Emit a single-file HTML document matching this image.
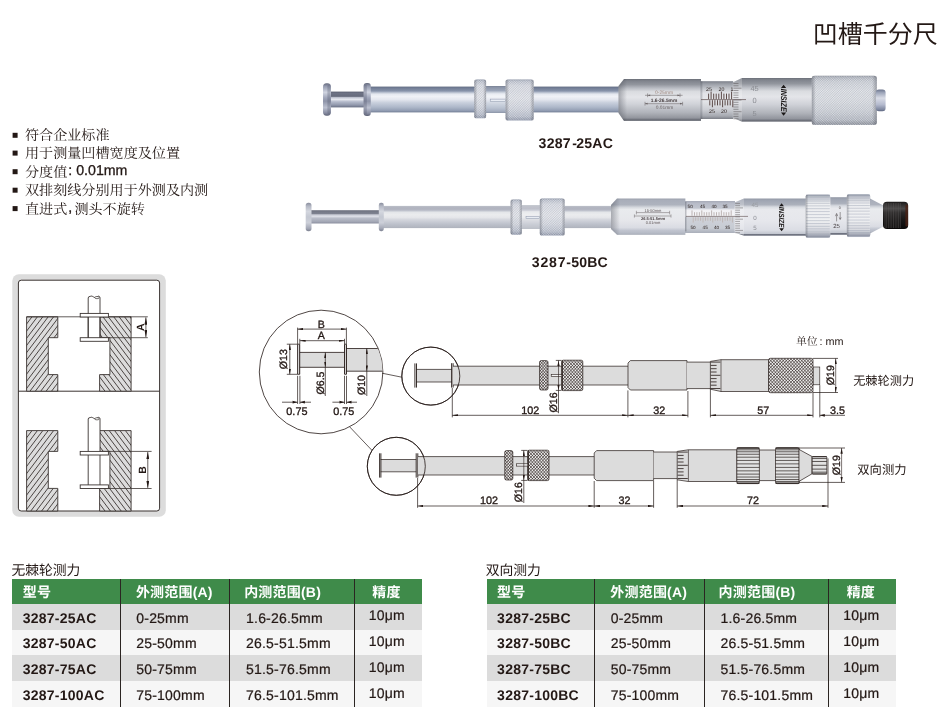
<!DOCTYPE html>
<html lang="zh"><head><meta charset="utf-8"><title>凹槽千分尺</title>
<style>
html,body{margin:0;padding:0;background:#fff;}
body{width:950px;height:722px;position:relative;will-change:transform;text-rendering:geometricPrecision;overflow:hidden;font-family:"Liberation Sans",sans-serif;color:#231815;}
#art{position:absolute;left:0;top:0;}
.t{position:absolute;white-space:nowrap;line-height:1;}
.b{font-weight:bold;}
svg text{font-family:"Liberation Sans",sans-serif;fill:#231815;}
svg .dw text{stroke:#231815;stroke-width:0.32px;}
table.spec{position:absolute;border-collapse:collapse;table-layout:fixed;font-size:14px;}
table.spec td,table.spec th{padding:0;text-align:left;font-weight:normal;white-space:nowrap;overflow:visible;}
table.spec th{background:#3f8b4a;color:#fff;height:25.3px;font-weight:bold;font-size:14px;font-family:"Liberation Sans","Noto Sans CJK SC",sans-serif;}
table.spec td{height:25.7px;}
table.spec tr.g td{background:#dcdcdc;}
table.spec tr.w td{background:#f6f6f6;}
table.spec td.m{font-weight:bold;}
table.spec .v{border-left:1.2px solid #2b2522;}
table.spec span{position:relative;display:inline-block;}
table.spec .c1{left:10.6px;} table.spec .c2{left:15.3px;} table.spec .c3{left:15.9px;} table.spec .c4{left:13.7px;}
table.spec td span{top:0.8px;letter-spacing:0.2px;-webkit-text-stroke:0.22px #231815;} table.spec td span.up{top:-1.5px;}
table.spec td.m span{letter-spacing:0.25px;-webkit-text-stroke:0;top:0.6px;}
table.spec th span{top:0.2px;letter-spacing:0.2px;}
table.spec th .c2{left:14.9px;} table.spec th .c3{left:14.0px;} table.spec th .c4{left:17.2px;}
</style></head>
<body>
<svg id="art" width="950" height="722" viewBox="0 0 950 722">
<!-- title -->
<text x="812.8" y="42.9" font-size="25" style="font-family:'Liberation Sans','Noto Sans CJK SC',sans-serif;fill:#231815">凹槽千分尺</text>
<!-- bullet text -->
<text x="25" y="140.3" font-size="14.1" style="font-family:'Liberation Serif','Noto Serif CJK SC',serif;fill:#231815">符合企业标准</text>
<text x="25" y="158.1" font-size="14.1" style="font-family:'Liberation Serif','Noto Serif CJK SC',serif;fill:#231815">用于测量凹槽宽度及位置</text>
<text x="25" y="176.7" font-size="14.1" style="font-family:'Liberation Serif','Noto Serif CJK SC',serif;fill:#231815">分度值</text>
<text x="25" y="195.2" font-size="14.1" style="font-family:'Liberation Serif','Noto Serif CJK SC',serif;fill:#231815">双排刻线分别用于外测及内测</text>
<text x="25" y="213.6" font-size="14.1" style="font-family:'Liberation Serif','Noto Serif CJK SC',serif;fill:#231815">直进式</text>
<text x="74.4" y="213.6" font-size="14.1" style="font-family:'Liberation Serif','Noto Serif CJK SC',serif;fill:#231815">测头不旋转</text>
<rect x="12.6" y="132.8" width="5" height="5" fill="#231815"/>
<rect x="12.6" y="150.6" width="5" height="5" fill="#231815"/>
<rect x="12.6" y="169.2" width="5" height="5" fill="#231815"/>
<rect x="12.6" y="187.7" width="5" height="5" fill="#231815"/>
<rect x="12.6" y="206.1" width="5" height="5" fill="#231815"/>
<!-- photos -->
<defs>
<linearGradient id="gTube" x1="0" y1="0" x2="0" y2="1"><stop offset="0" stop-color="#5a657b"/><stop offset="0.04" stop-color="#6f7a92"/><stop offset="0.17" stop-color="#8793aa"/><stop offset="0.23" stop-color="#b9c1d0"/><stop offset="0.29" stop-color="#e4e8ef"/><stop offset="0.38" stop-color="#f0f2f7"/><stop offset="0.5" stop-color="#e4e7ef"/><stop offset="0.62" stop-color="#c9d0dd"/><stop offset="0.8" stop-color="#adb7c9"/><stop offset="0.93" stop-color="#929db3"/><stop offset="1" stop-color="#727d94"/></linearGradient>
<linearGradient id="gBarrel" x1="0" y1="0" x2="0" y2="1"><stop offset="0" stop-color="#6c7079"/><stop offset="0.04" stop-color="#7f838c"/><stop offset="0.13" stop-color="#92969e"/><stop offset="0.22" stop-color="#bbbec5"/><stop offset="0.3" stop-color="#dadce0"/><stop offset="0.43" stop-color="#e4e5e9"/><stop offset="0.6" stop-color="#d0d2d8"/><stop offset="0.8" stop-color="#b0b3ba"/><stop offset="0.93" stop-color="#92959d"/><stop offset="0.97" stop-color="#6e717a"/><stop offset="1" stop-color="#7d8088"/></linearGradient>
<linearGradient id="gSleeve" x1="0" y1="0" x2="0" y2="1"><stop offset="0" stop-color="#7c808a"/><stop offset="0.07" stop-color="#9a9ea6"/><stop offset="0.2" stop-color="#c3c6cc"/><stop offset="0.32" stop-color="#e2e3e7"/><stop offset="0.5" stop-color="#e6e7ea"/><stop offset="0.75" stop-color="#ccced4"/><stop offset="0.92" stop-color="#a6a9b0"/><stop offset="1" stop-color="#7d8088"/></linearGradient>
<linearGradient id="gKnob" x1="0" y1="0" x2="0" y2="1"><stop offset="0" stop-color="#868a94"/><stop offset="0.04" stop-color="#adb1ba"/><stop offset="0.12" stop-color="#cfd2d8"/><stop offset="0.3" stop-color="#e2e4e8"/><stop offset="0.5" stop-color="#e0e2e6"/><stop offset="0.72" stop-color="#cdd0d6"/><stop offset="0.9" stop-color="#acb0b9"/><stop offset="0.97" stop-color="#80848e"/><stop offset="1" stop-color="#8d919a"/></linearGradient>
<linearGradient id="gKnurl" x1="0" y1="0" x2="0" y2="1"><stop offset="0" stop-color="#8e96a8"/><stop offset="0.05" stop-color="#bcc2cf"/><stop offset="0.15" stop-color="#dde0e8"/><stop offset="0.45" stop-color="#eaecf1"/><stop offset="0.7" stop-color="#d6dae3"/><stop offset="0.9" stop-color="#b4bbca"/><stop offset="0.97" stop-color="#8c94a8"/><stop offset="1" stop-color="#99a1b4"/></linearGradient>
<linearGradient id="gNub" x1="0" y1="0" x2="0" y2="1"><stop offset="0" stop-color="#69728a"/><stop offset="0.15" stop-color="#9ea6ba"/><stop offset="0.4" stop-color="#d9dce6"/><stop offset="0.7" stop-color="#b4bace"/><stop offset="0.93" stop-color="#7d869e"/><stop offset="1" stop-color="#5c6580"/></linearGradient>
<linearGradient id="gShaft" x1="0" y1="0" x2="0" y2="1"><stop offset="0" stop-color="#585d6e"/><stop offset="0.1" stop-color="#6e7385"/><stop offset="0.3" stop-color="#666b7c"/><stop offset="0.38" stop-color="#c6cad6"/><stop offset="0.5" stop-color="#e4e7ee"/><stop offset="0.64" stop-color="#b4bacb"/><stop offset="0.85" stop-color="#9198ac"/><stop offset="1" stop-color="#676e83"/></linearGradient>
<linearGradient id="gDisc" x1="0" y1="0" x2="0" y2="1"><stop offset="0" stop-color="#666b7e"/><stop offset="0.1" stop-color="#989eb2"/><stop offset="0.28" stop-color="#d0d4e0"/><stop offset="0.45" stop-color="#a0a6ba"/><stop offset="0.55" stop-color="#8e94a8"/><stop offset="0.75" stop-color="#bcc1d0"/><stop offset="0.92" stop-color="#868ba0"/><stop offset="1" stop-color="#5d6275"/></linearGradient>
<linearGradient id="gDisc2" x1="0" y1="0" x2="0" y2="1"><stop offset="0" stop-color="#8a8e9e"/><stop offset="0.12" stop-color="#b4b8c4"/><stop offset="0.3" stop-color="#d4d7df"/><stop offset="0.5" stop-color="#c4c8d2"/><stop offset="0.7" stop-color="#cdd0d9"/><stop offset="0.9" stop-color="#a4a8b6"/><stop offset="1" stop-color="#7e8292"/></linearGradient>
<linearGradient id="gShaft2" x1="0" y1="0" x2="0" y2="1"><stop offset="0" stop-color="#6e7280"/><stop offset="0.28" stop-color="#7f8391"/><stop offset="0.34" stop-color="#c9ccd6"/><stop offset="0.48" stop-color="#dcdee6"/><stop offset="0.6" stop-color="#b9bdc9"/><stop offset="0.85" stop-color="#a4a8b6"/><stop offset="1" stop-color="#8b8f9f"/></linearGradient>
<linearGradient id="gTube2" x1="0" y1="0" x2="0" y2="1"><stop offset="0" stop-color="#bec2ca"/><stop offset="0.05" stop-color="#b3b6c1"/><stop offset="0.15" stop-color="#b0b3bf"/><stop offset="0.22" stop-color="#c1c4ce"/><stop offset="0.28" stop-color="#e3e5e9"/><stop offset="0.4" stop-color="#ebecee"/><stop offset="0.52" stop-color="#e5e6ea"/><stop offset="0.62" stop-color="#d4d6dd"/><stop offset="0.8" stop-color="#bfc3cd"/><stop offset="0.92" stop-color="#b5b9c3"/><stop offset="1" stop-color="#adb2bb"/></linearGradient>
<linearGradient id="gBarrel2" x1="0" y1="0" x2="0" y2="1"><stop offset="0" stop-color="#9da2ae"/><stop offset="0.05" stop-color="#a9aeba"/><stop offset="0.17" stop-color="#aeb3be"/><stop offset="0.24" stop-color="#d5d8de"/><stop offset="0.3" stop-color="#e9ebee"/><stop offset="0.6" stop-color="#e6e7eb"/><stop offset="0.8" stop-color="#dadce3"/><stop offset="0.88" stop-color="#c0c4cf"/><stop offset="0.96" stop-color="#b4b9c4"/><stop offset="1" stop-color="#9da2ae"/></linearGradient>
<linearGradient id="gSleeve2" x1="0" y1="0" x2="0" y2="1"><stop offset="0" stop-color="#a7abb8"/><stop offset="0.08" stop-color="#b8bcc8"/><stop offset="0.22" stop-color="#c0c4ce"/><stop offset="0.28" stop-color="#f1f1f4"/><stop offset="0.46" stop-color="#f5f5f7"/><stop offset="0.52" stop-color="#cfd2d9"/><stop offset="0.85" stop-color="#c7cbd3"/><stop offset="1" stop-color="#aaafba"/></linearGradient>
<linearGradient id="gThim2" x1="0" y1="0" x2="0" y2="1"><stop offset="0" stop-color="#9399a6"/><stop offset="0.06" stop-color="#a0a6b3"/><stop offset="0.17" stop-color="#acb1bc"/><stop offset="0.23" stop-color="#d8dbe1"/><stop offset="0.3" stop-color="#e8e9ed"/><stop offset="0.6" stop-color="#e6e7ec"/><stop offset="0.85" stop-color="#dbdde4"/><stop offset="0.94" stop-color="#c3c7d0"/><stop offset="0.975" stop-color="#4f5362"/><stop offset="1" stop-color="#7f8490"/></linearGradient>
<linearGradient id="gGear" x1="0" y1="0" x2="0" y2="1"><stop offset="0" stop-color="#9ea3ae"/><stop offset="0.05" stop-color="#cccfd6"/><stop offset="0.2" stop-color="#edeef0"/><stop offset="0.6" stop-color="#eff0f2"/><stop offset="0.85" stop-color="#d8dae0"/><stop offset="0.95" stop-color="#aeb2bc"/><stop offset="1" stop-color="#8d919e"/></linearGradient>
<linearGradient id="gBlack" x1="0" y1="0" x2="0" y2="1"><stop offset="0" stop-color="#1c1a1a"/><stop offset="0.25" stop-color="#4a4848"/><stop offset="0.4" stop-color="#2a2828"/><stop offset="0.7" stop-color="#161414"/><stop offset="1" stop-color="#0a0808"/></linearGradient>
<linearGradient id="shL" x1="0" y1="0" x2="1" y2="0"><stop offset="0" stop-color="#30343f" stop-opacity="0.35"/><stop offset="1" stop-color="#30343f" stop-opacity="0"/></linearGradient>
<linearGradient id="shR" x1="0" y1="0" x2="1" y2="0"><stop offset="0" stop-color="#30343f" stop-opacity="0"/><stop offset="1" stop-color="#30343f" stop-opacity="0.35"/></linearGradient>
</defs>
<g id="mic1">
<rect x="330" y="91.6" width="34.5" height="15.8" fill="url(#gShaft)"/><rect x="323" y="83.3" width="8" height="32.4" rx="3.6" fill="url(#gDisc)"/><rect x="327.4" y="84.8" width="3.2" height="29.4" rx="1.5" fill="#50556a" opacity="0.3"/><rect x="369.8" y="86.6" width="251.2" height="25.8" fill="url(#gTube)"/><rect x="363.6" y="83.0" width="7.199999999999989" height="33.0" rx="3.0" fill="url(#gDisc)"/><rect x="363.6" y="84.5" width="3.2" height="30.0" rx="1.2" fill="#4a4f63" opacity="0.27"/>
<rect x="485" y="86.0" width="22" height="27" fill="url(#gTube)"/><rect x="485" y="86.0" width="22" height="27" fill="#fff" opacity="0.18"/>
<rect x="490.2" y="99.1" width="15.5" height="2.4" fill="#e8ecf3" stroke="#8a93a8" stroke-width="0.5"/>
<rect x="474.3" y="79.6" width="11.8" height="38.7" rx="2.6" fill="url(#gKnurl)"/><clipPath id="pk1"><rect x="474.3" y="79.6" width="11.8" height="38.7" rx="2.6"/></clipPath><g clip-path="url(#pk1)" fill="none" stroke-width="0.6"><path d="M435.20 79.60l38.70 38.70M436.90 79.60l38.70 38.70M438.60 79.60l38.70 38.70M440.30 79.60l38.70 38.70M442.00 79.60l38.70 38.70M443.70 79.60l38.70 38.70M445.40 79.60l38.70 38.70M447.10 79.60l38.70 38.70M448.80 79.60l38.70 38.70M450.50 79.60l38.70 38.70M452.20 79.60l38.70 38.70M453.90 79.60l38.70 38.70M455.60 79.60l38.70 38.70M457.30 79.60l38.70 38.70M459.00 79.60l38.70 38.70M460.70 79.60l38.70 38.70M462.40 79.60l38.70 38.70M464.10 79.60l38.70 38.70M465.80 79.60l38.70 38.70M467.50 79.60l38.70 38.70M469.20 79.60l38.70 38.70M470.90 79.60l38.70 38.70M472.60 79.60l38.70 38.70M474.30 79.60l38.70 38.70M476.00 79.60l38.70 38.70M477.70 79.60l38.70 38.70M479.40 79.60l38.70 38.70M481.10 79.60l38.70 38.70M482.80 79.60l38.70 38.70M484.50 79.60l38.70 38.70" stroke="#ffffff" opacity="0.8"/><path d="M473.90 79.60l-38.70 38.70M475.60 79.60l-38.70 38.70M477.30 79.60l-38.70 38.70M479.00 79.60l-38.70 38.70M480.70 79.60l-38.70 38.70M482.40 79.60l-38.70 38.70M484.10 79.60l-38.70 38.70M485.80 79.60l-38.70 38.70M487.50 79.60l-38.70 38.70M489.20 79.60l-38.70 38.70M490.90 79.60l-38.70 38.70M492.60 79.60l-38.70 38.70M494.30 79.60l-38.70 38.70M496.00 79.60l-38.70 38.70M497.70 79.60l-38.70 38.70M499.40 79.60l-38.70 38.70M501.10 79.60l-38.70 38.70M502.80 79.60l-38.70 38.70M504.50 79.60l-38.70 38.70M506.20 79.60l-38.70 38.70M507.90 79.60l-38.70 38.70M509.60 79.60l-38.70 38.70M511.30 79.60l-38.70 38.70M513.00 79.60l-38.70 38.70M514.70 79.60l-38.70 38.70M516.40 79.60l-38.70 38.70M518.10 79.60l-38.70 38.70M519.80 79.60l-38.70 38.70M521.50 79.60l-38.70 38.70M523.20 79.60l-38.70 38.70" stroke="#7d8494" opacity="0.5"/></g>
<rect x="474.3" y="79.6" width="3" height="38.7" rx="1.5" fill="url(#shL)"/><rect x="483.1" y="79.6" width="3" height="38.7" rx="1.5" fill="url(#shR)"/>
<rect x="505.6" y="79.4" width="28" height="41.1" rx="2.8" fill="url(#gKnurl)"/><clipPath id="pk2"><rect x="505.6" y="79.4" width="28" height="41.1" rx="2.8"/></clipPath><g clip-path="url(#pk2)" fill="none" stroke-width="0.6"><path d="M463.10 79.40l41.10 41.10M464.80 79.40l41.10 41.10M466.50 79.40l41.10 41.10M468.20 79.40l41.10 41.10M469.90 79.40l41.10 41.10M471.60 79.40l41.10 41.10M473.30 79.40l41.10 41.10M475.00 79.40l41.10 41.10M476.70 79.40l41.10 41.10M478.40 79.40l41.10 41.10M480.10 79.40l41.10 41.10M481.80 79.40l41.10 41.10M483.50 79.40l41.10 41.10M485.20 79.40l41.10 41.10M486.90 79.40l41.10 41.10M488.60 79.40l41.10 41.10M490.30 79.40l41.10 41.10M492.00 79.40l41.10 41.10M493.70 79.40l41.10 41.10M495.40 79.40l41.10 41.10M497.10 79.40l41.10 41.10M498.80 79.40l41.10 41.10M500.50 79.40l41.10 41.10M502.20 79.40l41.10 41.10M503.90 79.40l41.10 41.10M505.60 79.40l41.10 41.10M507.30 79.40l41.10 41.10M509.00 79.40l41.10 41.10M510.70 79.40l41.10 41.10M512.40 79.40l41.10 41.10M514.10 79.40l41.10 41.10M515.80 79.40l41.10 41.10M517.50 79.40l41.10 41.10M519.20 79.40l41.10 41.10M520.90 79.40l41.10 41.10M522.60 79.40l41.10 41.10M524.30 79.40l41.10 41.10M526.00 79.40l41.10 41.10M527.70 79.40l41.10 41.10M529.40 79.40l41.10 41.10M531.10 79.40l41.10 41.10M532.80 79.40l41.10 41.10" stroke="#ffffff" opacity="0.8"/><path d="M504.20 79.40l-41.10 41.10M505.90 79.40l-41.10 41.10M507.60 79.40l-41.10 41.10M509.30 79.40l-41.10 41.10M511.00 79.40l-41.10 41.10M512.70 79.40l-41.10 41.10M514.40 79.40l-41.10 41.10M516.10 79.40l-41.10 41.10M517.80 79.40l-41.10 41.10M519.50 79.40l-41.10 41.10M521.20 79.40l-41.10 41.10M522.90 79.40l-41.10 41.10M524.60 79.40l-41.10 41.10M526.30 79.40l-41.10 41.10M528.00 79.40l-41.10 41.10M529.70 79.40l-41.10 41.10M531.40 79.40l-41.10 41.10M533.10 79.40l-41.10 41.10M534.80 79.40l-41.10 41.10M536.50 79.40l-41.10 41.10M538.20 79.40l-41.10 41.10M539.90 79.40l-41.10 41.10M541.60 79.40l-41.10 41.10M543.30 79.40l-41.10 41.10M545.00 79.40l-41.10 41.10M546.70 79.40l-41.10 41.10M548.40 79.40l-41.10 41.10M550.10 79.40l-41.10 41.10M551.80 79.40l-41.10 41.10M553.50 79.40l-41.10 41.10M555.20 79.40l-41.10 41.10M556.90 79.40l-41.10 41.10M558.60 79.40l-41.10 41.10M560.30 79.40l-41.10 41.10M562.00 79.40l-41.10 41.10M563.70 79.40l-41.10 41.10M565.40 79.40l-41.10 41.10M567.10 79.40l-41.10 41.10M568.80 79.40l-41.10 41.10M570.50 79.40l-41.10 41.10M572.20 79.40l-41.10 41.10M573.90 79.40l-41.10 41.10" stroke="#7d8494" opacity="0.5"/></g>
<rect x="505.6" y="79.4" width="3.5" height="41.1" rx="1.5" fill="url(#shL)"/><rect x="530.1" y="79.4" width="3.5" height="41.1" rx="1.5" fill="url(#shR)"/>
<path d="M618.5 86.0 L624 79.1 H701 V120.9 H624 L618.5 113.0 Z" fill="url(#gBarrel)"/>
<path d="M618.5 86.0 L624 79.1 H627 V120.9 H624 L618.5 113.0 Z" fill="url(#shL)"/>
<rect x="700.6" y="81.2" width="32.6" height="37.8" fill="url(#gSleeve)"/>
<rect x="700.6" y="81.2" width="2.5" height="37.8" fill="url(#shL)"/>
<path d="M732.6 82.5 L742 78 H812.6 V121.8 H742 L732.6 117.6 Z" fill="url(#gBarrel)"/>
<path d="M732.6 82.5 L742 78 V121.8 L732.6 117.6 Z" fill="#fff" opacity="0.22"/>
<rect x="811.8" y="75.8" width="65" height="49.2" rx="3.2" fill="url(#gKnob)"/><clipPath id="pk3"><rect x="811.8" y="75.8" width="65" height="49.2" rx="3.2"/></clipPath><g clip-path="url(#pk3)" fill="none" stroke-width="0.6"><path d="M762.50 75.80l49.20 49.20M764.20 75.80l49.20 49.20M765.90 75.80l49.20 49.20M767.60 75.80l49.20 49.20M769.30 75.80l49.20 49.20M771.00 75.80l49.20 49.20M772.70 75.80l49.20 49.20M774.40 75.80l49.20 49.20M776.10 75.80l49.20 49.20M777.80 75.80l49.20 49.20M779.50 75.80l49.20 49.20M781.20 75.80l49.20 49.20M782.90 75.80l49.20 49.20M784.60 75.80l49.20 49.20M786.30 75.80l49.20 49.20M788.00 75.80l49.20 49.20M789.70 75.80l49.20 49.20M791.40 75.80l49.20 49.20M793.10 75.80l49.20 49.20M794.80 75.80l49.20 49.20M796.50 75.80l49.20 49.20M798.20 75.80l49.20 49.20M799.90 75.80l49.20 49.20M801.60 75.80l49.20 49.20M803.30 75.80l49.20 49.20M805.00 75.80l49.20 49.20M806.70 75.80l49.20 49.20M808.40 75.80l49.20 49.20M810.10 75.80l49.20 49.20M811.80 75.80l49.20 49.20M813.50 75.80l49.20 49.20M815.20 75.80l49.20 49.20M816.90 75.80l49.20 49.20M818.60 75.80l49.20 49.20M820.30 75.80l49.20 49.20M822.00 75.80l49.20 49.20M823.70 75.80l49.20 49.20M825.40 75.80l49.20 49.20M827.10 75.80l49.20 49.20M828.80 75.80l49.20 49.20M830.50 75.80l49.20 49.20M832.20 75.80l49.20 49.20M833.90 75.80l49.20 49.20M835.60 75.80l49.20 49.20M837.30 75.80l49.20 49.20M839.00 75.80l49.20 49.20M840.70 75.80l49.20 49.20M842.40 75.80l49.20 49.20M844.10 75.80l49.20 49.20M845.80 75.80l49.20 49.20M847.50 75.80l49.20 49.20M849.20 75.80l49.20 49.20M850.90 75.80l49.20 49.20M852.60 75.80l49.20 49.20M854.30 75.80l49.20 49.20M856.00 75.80l49.20 49.20M857.70 75.80l49.20 49.20M859.40 75.80l49.20 49.20M861.10 75.80l49.20 49.20M862.80 75.80l49.20 49.20M864.50 75.80l49.20 49.20M866.20 75.80l49.20 49.20M867.90 75.80l49.20 49.20M869.60 75.80l49.20 49.20M871.30 75.80l49.20 49.20M873.00 75.80l49.20 49.20M874.70 75.80l49.20 49.20M876.40 75.80l49.20 49.20" stroke="#ffffff" opacity="0.85"/><path d="M811.70 75.80l-49.20 49.20M813.40 75.80l-49.20 49.20M815.10 75.80l-49.20 49.20M816.80 75.80l-49.20 49.20M818.50 75.80l-49.20 49.20M820.20 75.80l-49.20 49.20M821.90 75.80l-49.20 49.20M823.60 75.80l-49.20 49.20M825.30 75.80l-49.20 49.20M827.00 75.80l-49.20 49.20M828.70 75.80l-49.20 49.20M830.40 75.80l-49.20 49.20M832.10 75.80l-49.20 49.20M833.80 75.80l-49.20 49.20M835.50 75.80l-49.20 49.20M837.20 75.80l-49.20 49.20M838.90 75.80l-49.20 49.20M840.60 75.80l-49.20 49.20M842.30 75.80l-49.20 49.20M844.00 75.80l-49.20 49.20M845.70 75.80l-49.20 49.20M847.40 75.80l-49.20 49.20M849.10 75.80l-49.20 49.20M850.80 75.80l-49.20 49.20M852.50 75.80l-49.20 49.20M854.20 75.80l-49.20 49.20M855.90 75.80l-49.20 49.20M857.60 75.80l-49.20 49.20M859.30 75.80l-49.20 49.20M861.00 75.80l-49.20 49.20M862.70 75.80l-49.20 49.20M864.40 75.80l-49.20 49.20M866.10 75.80l-49.20 49.20M867.80 75.80l-49.20 49.20M869.50 75.80l-49.20 49.20M871.20 75.80l-49.20 49.20M872.90 75.80l-49.20 49.20M874.60 75.80l-49.20 49.20M876.30 75.80l-49.20 49.20M878.00 75.80l-49.20 49.20M879.70 75.80l-49.20 49.20M881.40 75.80l-49.20 49.20M883.10 75.80l-49.20 49.20M884.80 75.80l-49.20 49.20M886.50 75.80l-49.20 49.20M888.20 75.80l-49.20 49.20M889.90 75.80l-49.20 49.20M891.60 75.80l-49.20 49.20M893.30 75.80l-49.20 49.20M895.00 75.80l-49.20 49.20M896.70 75.80l-49.20 49.20M898.40 75.80l-49.20 49.20M900.10 75.80l-49.20 49.20M901.80 75.80l-49.20 49.20M903.50 75.80l-49.20 49.20M905.20 75.80l-49.20 49.20M906.90 75.80l-49.20 49.20M908.60 75.80l-49.20 49.20M910.30 75.80l-49.20 49.20M912.00 75.80l-49.20 49.20M913.70 75.80l-49.20 49.20M915.40 75.80l-49.20 49.20M917.10 75.80l-49.20 49.20M918.80 75.80l-49.20 49.20M920.50 75.80l-49.20 49.20M922.20 75.80l-49.20 49.20M923.90 75.80l-49.20 49.20M925.60 75.80l-49.20 49.20" stroke="#8a91a2" opacity="0.6"/></g>
<rect x="811.8" y="75.8" width="4" height="49.2" rx="2" fill="url(#shL)"/><rect x="872" y="75.8" width="4.8" height="49.2" rx="2" fill="url(#shR)"/>
<rect x="875.8" y="89.4" width="9.8" height="21.8" rx="3.2" fill="url(#gNub)"/>
<path d="M708.6 99.0V93.6M709.8 100.2V105.4M711.1 99.0V91.6M712.4 100.2V107.2M713.7 99.0V93.6M714.9 100.2V105.4M716.2 99.0V93.6M717.5 100.2V105.4M718.8 99.0V93.6M720.0 100.2V105.4M721.4 99.0V91.6M722.6 100.2V107.2M723.9 99.0V93.6M725.1 100.2V105.4M726.5 99.0V93.6M727.7 100.2V105.4M729.0 99.0V93.6M730.2 100.2V105.4M731.6 99.0V91.6M732.8 100.2V107.2" stroke="#4e3a38" stroke-width="0.9" fill="none"/>
<path d="M701 99.6H746" stroke="#5a4a4a" stroke-width="0.7"/>
<path d="M733.4 83.5H738.5M733.4 85.8H738.5M733.4 88.2H741.5M733.4 90.5H738.5M733.4 92.9H738.5M733.4 95.2H738.5M733.4 97.6H738.5M733.4 100.0H741.5M733.4 102.3H738.5M733.4 104.7H738.5M733.4 107.0H738.5M733.4 109.3H738.5M733.4 111.7H741.5M733.4 114.0H738.5M733.4 116.4H738.5M733.4 118.8H738.5" stroke="#5e5a5c" stroke-width="0.55" fill="none"/>
<g font-size="5.2" style="fill:#3c3638"><text x="706" y="91">25</text><text x="718.5" y="91">20</text><text x="730.6" y="91">1</text><text x="709" y="113">25</text><text x="721" y="113">20</text></g>
<g font-size="7.4" style="fill:#8b8d93"><text x="750.4" y="90.8" style="fill:#8b8d93">45</text><text x="752.6" y="103.4" style="fill:#8b8d93">0</text><text x="752.6" y="115.6" style="fill:#8b8d93">5</text></g>
<g stroke="#6b6466" stroke-width="0.55" fill="none"><path d="M645 95.3H682.6M645 103.7H682.6M647.6 93.4V97.2M680 93.4V97.2M645 101.8V105.6M682.6 101.8V105.6"/></g>
<path d="M647.6 95.3l2.6-.9v1.8zM680 95.3l-2.6-.9v1.8zM645 103.7l2.6-.9v1.8zM682.6 103.7l-2.6-.9v1.8z" fill="#6b6466"/>
<g font-size="4.9" text-anchor="middle"><text x="664" y="94.2" style="fill:#a08a80">0-25mm</text><text x="664" y="102.2" font-weight="bold" style="fill:#4a4244">1.6-26.5mm</text><text x="664.6" y="109.4" style="fill:#6b6466">0.01mm</text></g>
<g transform="translate(783.6,100.2) rotate(90) scale(1.000)"><path d="M-15.5 0 L-12.2 -2.6 V2.6 Z M15.5 0 L12.2 -2.6 V2.6 Z" fill="#1b1818"/><text x="0" y="2.9" text-anchor="middle" font-size="8.2" font-weight="bold" font-style="italic" textLength="23" lengthAdjust="spacingAndGlyphs" style="fill:#1b1818">INSIZE</text></g>
</g>
<g id="mic2">
<rect x="310.5" y="210.2" width="69.10000000000002" height="13.3" fill="url(#gShaft2)"/><rect x="305.7" y="202.8" width="5.800000000000011" height="28.4" rx="2.6" fill="url(#gDisc2)"/><rect x="382.8" y="205.9" width="230.2" height="22.2" fill="url(#gTube2)"/><rect x="378.8" y="202.8" width="5.0" height="28.4" rx="2.1" fill="url(#gDisc2)"/>
<rect x="521" y="205.0" width="20" height="24" fill="url(#gTube2)"/><rect x="521" y="205.0" width="20" height="24" fill="#fff" opacity="0.18"/>
<rect x="526" y="216.6" width="13.5" height="2" fill="#e8ecf3" stroke="#8a93a8" stroke-width="0.5"/>
<rect x="510.6" y="199.5" width="11.2" height="35.2" rx="2.4" fill="url(#gKnurl)"/><clipPath id="pk4"><rect x="510.6" y="199.5" width="11.2" height="35.2" rx="2.4"/></clipPath><g clip-path="url(#pk4)" fill="none" stroke-width="0.6"><path d="M474.90 199.50l35.20 35.20M476.60 199.50l35.20 35.20M478.30 199.50l35.20 35.20M480.00 199.50l35.20 35.20M481.70 199.50l35.20 35.20M483.40 199.50l35.20 35.20M485.10 199.50l35.20 35.20M486.80 199.50l35.20 35.20M488.50 199.50l35.20 35.20M490.20 199.50l35.20 35.20M491.90 199.50l35.20 35.20M493.60 199.50l35.20 35.20M495.30 199.50l35.20 35.20M497.00 199.50l35.20 35.20M498.70 199.50l35.20 35.20M500.40 199.50l35.20 35.20M502.10 199.50l35.20 35.20M503.80 199.50l35.20 35.20M505.50 199.50l35.20 35.20M507.20 199.50l35.20 35.20M508.90 199.50l35.20 35.20M510.60 199.50l35.20 35.20M512.30 199.50l35.20 35.20M514.00 199.50l35.20 35.20M515.70 199.50l35.20 35.20M517.40 199.50l35.20 35.20M519.10 199.50l35.20 35.20M520.80 199.50l35.20 35.20" stroke="#ffffff" opacity="0.8"/><path d="M510.10 199.50l-35.20 35.20M511.80 199.50l-35.20 35.20M513.50 199.50l-35.20 35.20M515.20 199.50l-35.20 35.20M516.90 199.50l-35.20 35.20M518.60 199.50l-35.20 35.20M520.30 199.50l-35.20 35.20M522.00 199.50l-35.20 35.20M523.70 199.50l-35.20 35.20M525.40 199.50l-35.20 35.20M527.10 199.50l-35.20 35.20M528.80 199.50l-35.20 35.20M530.50 199.50l-35.20 35.20M532.20 199.50l-35.20 35.20M533.90 199.50l-35.20 35.20M535.60 199.50l-35.20 35.20M537.30 199.50l-35.20 35.20M539.00 199.50l-35.20 35.20M540.70 199.50l-35.20 35.20M542.40 199.50l-35.20 35.20M544.10 199.50l-35.20 35.20M545.80 199.50l-35.20 35.20M547.50 199.50l-35.20 35.20M549.20 199.50l-35.20 35.20M550.90 199.50l-35.20 35.20M552.60 199.50l-35.20 35.20M554.30 199.50l-35.20 35.20M556.00 199.50l-35.20 35.20" stroke="#7d8494" opacity="0.5"/></g>
<rect x="510.6" y="199.5" width="3" height="35.2" rx="1.5" fill="url(#shL)"/><rect x="518.8" y="199.5" width="3" height="35.2" rx="1.5" fill="url(#shR)"/>
<rect x="539.8" y="198.6" width="24.8" height="37" rx="2.6" fill="url(#gKnurl)"/><clipPath id="pk5"><rect x="539.8" y="198.6" width="24.8" height="37" rx="2.6"/></clipPath><g clip-path="url(#pk5)" fill="none" stroke-width="0.6"><path d="M502.40 198.60l37.00 37.00M504.10 198.60l37.00 37.00M505.80 198.60l37.00 37.00M507.50 198.60l37.00 37.00M509.20 198.60l37.00 37.00M510.90 198.60l37.00 37.00M512.60 198.60l37.00 37.00M514.30 198.60l37.00 37.00M516.00 198.60l37.00 37.00M517.70 198.60l37.00 37.00M519.40 198.60l37.00 37.00M521.10 198.60l37.00 37.00M522.80 198.60l37.00 37.00M524.50 198.60l37.00 37.00M526.20 198.60l37.00 37.00M527.90 198.60l37.00 37.00M529.60 198.60l37.00 37.00M531.30 198.60l37.00 37.00M533.00 198.60l37.00 37.00M534.70 198.60l37.00 37.00M536.40 198.60l37.00 37.00M538.10 198.60l37.00 37.00M539.80 198.60l37.00 37.00M541.50 198.60l37.00 37.00M543.20 198.60l37.00 37.00M544.90 198.60l37.00 37.00M546.60 198.60l37.00 37.00M548.30 198.60l37.00 37.00M550.00 198.60l37.00 37.00M551.70 198.60l37.00 37.00M553.40 198.60l37.00 37.00M555.10 198.60l37.00 37.00M556.80 198.60l37.00 37.00M558.50 198.60l37.00 37.00M560.20 198.60l37.00 37.00M561.90 198.60l37.00 37.00M563.60 198.60l37.00 37.00" stroke="#ffffff" opacity="0.8"/><path d="M539.40 198.60l-37.00 37.00M541.10 198.60l-37.00 37.00M542.80 198.60l-37.00 37.00M544.50 198.60l-37.00 37.00M546.20 198.60l-37.00 37.00M547.90 198.60l-37.00 37.00M549.60 198.60l-37.00 37.00M551.30 198.60l-37.00 37.00M553.00 198.60l-37.00 37.00M554.70 198.60l-37.00 37.00M556.40 198.60l-37.00 37.00M558.10 198.60l-37.00 37.00M559.80 198.60l-37.00 37.00M561.50 198.60l-37.00 37.00M563.20 198.60l-37.00 37.00M564.90 198.60l-37.00 37.00M566.60 198.60l-37.00 37.00M568.30 198.60l-37.00 37.00M570.00 198.60l-37.00 37.00M571.70 198.60l-37.00 37.00M573.40 198.60l-37.00 37.00M575.10 198.60l-37.00 37.00M576.80 198.60l-37.00 37.00M578.50 198.60l-37.00 37.00M580.20 198.60l-37.00 37.00M581.90 198.60l-37.00 37.00M583.60 198.60l-37.00 37.00M585.30 198.60l-37.00 37.00M587.00 198.60l-37.00 37.00M588.70 198.60l-37.00 37.00M590.40 198.60l-37.00 37.00M592.10 198.60l-37.00 37.00M593.80 198.60l-37.00 37.00M595.50 198.60l-37.00 37.00M597.20 198.60l-37.00 37.00M598.90 198.60l-37.00 37.00M600.60 198.60l-37.00 37.00" stroke="#7d8494" opacity="0.5"/></g>
<rect x="539.8" y="198.6" width="3.2" height="37" rx="1.5" fill="url(#shL)"/><rect x="561.4" y="198.6" width="3.2" height="37" rx="1.5" fill="url(#shR)"/>
<path d="M611 205.0 L617 198.6 H685.4 V234.8 H617 L611 229.0 Z" fill="url(#gBarrel2)"/>
<path d="M611 205.0 L617 198.6 H620 V234.8 H617 L611 229.0 Z" fill="url(#shL)"/>
<rect x="685" y="201" width="50" height="32" fill="url(#gSleeve2)"/>
<rect x="685" y="201.8" width="2.5" height="29.6" fill="url(#shL)"/>
<path d="M734.6 202.6 L744 198.4 H806 V235.8 H744 L734.6 232.6 Z" fill="url(#gThim2)"/>
<path d="M734.6 202.6 L744 198.4 V235.4 L734.6 231 Z" fill="#fff" opacity="0.22"/>
<rect x="830" y="197.2" width="17.5" height="37.6" fill="url(#gThim2)"/>
<rect x="805.6" y="194.8" width="24.8" height="42.6" rx="2.2" fill="url(#gGear)"/><path d="M806.2 194.85h23.6M806.2 195.29h23.6M806.2 196.14h23.6M806.2 197.41h23.6M806.2 199.05h23.6M806.2 201.04h23.6M806.2 203.34h23.6M806.2 205.89h23.6M806.2 208.66h23.6M806.2 211.57h23.6M806.2 214.58h23.6M806.2 217.62h23.6M806.2 220.63h23.6M806.2 223.54h23.6M806.2 226.31h23.6M806.2 228.86h23.6M806.2 231.16h23.6M806.2 233.15h23.6M806.2 234.79h23.6M806.2 236.06h23.6M806.2 236.91h23.6M806.2 237.35h23.6" stroke="#8b93a6" stroke-width="0.5" opacity="0.75" fill="none"/>
<rect x="805.6" y="194.8" width="3" height="42.6" rx="1.5" fill="url(#shL)"/>
<rect x="846.8" y="194.6" width="23.6" height="42" rx="2.2" fill="url(#gGear)"/><path d="M847.4 194.65h22.4M847.4 195.08h22.4M847.4 195.92h22.4M847.4 197.17h22.4M847.4 198.79h22.4M847.4 200.75h22.4M847.4 203.02h22.4M847.4 205.54h22.4M847.4 208.26h22.4M847.4 211.14h22.4M847.4 214.10h22.4M847.4 217.10h22.4M847.4 220.06h22.4M847.4 222.94h22.4M847.4 225.66h22.4M847.4 228.18h22.4M847.4 230.45h22.4M847.4 232.41h22.4M847.4 234.03h22.4M847.4 235.28h22.4M847.4 236.12h22.4M847.4 236.55h22.4" stroke="#8b93a6" stroke-width="0.5" opacity="0.75" fill="none"/>
<rect x="846.8" y="194.6" width="3" height="42" rx="1.5" fill="url(#shL)"/>
<path d="M870 198.6 L883.4 205.4 V226.4 L870 233.4 Z" fill="url(#gBarrel2)"/>
<rect x="883" y="201.8" width="25.2" height="27.2" rx="4" fill="url(#gBlack)"/><path d="M885.0 203v25M886.7 203v25M888.4 203v25M890.1 203v25M891.8 203v25M893.5 203v25M895.2 203v25M896.9 203v25M898.6 203v25M900.3 203v25" stroke="#5a5858" stroke-width="0.6" opacity="0.85"/>
<rect x="905.4" y="204.5" width="2.6" height="22" rx="1.3" fill="#4a2014" opacity="0.8"/>
<path d="M686 216.4H748" stroke="#5a4a4a" stroke-width="0.6"/>
<path d="M692.0 215.8V210.4M693.2 217.2V222.6M694.5 215.8V212.2M695.7 217.2V220.8M696.9 215.8V212.2M698.1 217.2V220.8M699.4 215.8V212.2M700.6 217.2V220.8M701.8 215.8V210.4M703.0 217.2V222.6M704.2 215.8V212.2M705.5 217.2V220.8M706.7 215.8V212.2M707.9 217.2V220.8M709.1 215.8V212.2M710.4 217.2V220.8M711.6 215.8V210.4M712.8 217.2V222.6M714.0 215.8V212.2M715.2 217.2V220.8M716.5 215.8V212.2M717.7 217.2V220.8M719.0 215.8V212.2M720.2 217.2V220.8M721.4 215.8V210.4M722.6 217.2V222.6M723.9 215.8V212.2M725.1 217.2V220.8M726.3 215.8V212.2M727.5 217.2V220.8M728.8 215.8V212.2M730.0 217.2V220.8M731.2 215.8V210.4M732.4 217.2V222.6" stroke="#f3f3f4" stroke-width="0.9" fill="none"/>
<path d="M692.0 215.8V210.4M693.2 217.2V222.6M694.5 215.8V212.2M695.7 217.2V220.8M696.9 215.8V212.2M698.1 217.2V220.8M699.4 215.8V212.2M700.6 217.2V220.8M701.8 215.8V210.4M703.0 217.2V222.6M704.2 215.8V212.2M705.5 217.2V220.8M706.7 215.8V212.2M707.9 217.2V220.8M709.1 215.8V212.2M710.4 217.2V220.8M711.6 215.8V210.4M712.8 217.2V222.6M714.0 215.8V212.2M715.2 217.2V220.8M716.5 215.8V212.2M717.7 217.2V220.8M719.0 215.8V212.2M720.2 217.2V220.8M721.4 215.8V210.4M722.6 217.2V222.6M723.9 215.8V212.2M725.1 217.2V220.8M726.3 215.8V212.2M727.5 217.2V220.8M728.8 215.8V212.2M730.0 217.2V220.8M731.2 215.8V210.4M732.4 217.2V222.6" stroke="#7a6a68" stroke-width="0.45" fill="none"/>
<path d="M735.2 203.4H740.0M735.2 205.7H740.0M735.2 207.9H743.0M735.2 210.2H740.0M735.2 212.4H740.0M735.2 214.7H740.0M735.2 216.9H740.0M735.2 219.2H743.0M735.2 221.4H740.0M735.2 223.7H740.0M735.2 225.9H740.0M735.2 228.2H740.0M735.2 230.4H743.0M735.2 232.7H740.0" stroke="#5e5a5c" stroke-width="0.5" fill="none"/>
<g font-size="4.6" style="fill:#3c3638"><text x="687.6" y="207.8">50</text><text x="700" y="207.8">45</text><text x="711.4" y="207.8">40</text><text x="722.4" y="207.8">35</text><text x="690.4" y="229.2">50</text><text x="702.6" y="229.2">45</text><text x="714" y="229.2">40</text><text x="725" y="229.2">35</text></g>
<g font-size="6.2"><text x="751.6" y="207.4" style="fill:#9a9ca2">45</text><text x="753.2" y="219.6" style="fill:#8b8d93">0</text><text x="753.2" y="230.4" style="fill:#8b8d93">5</text></g>
<g stroke="#6b6466" stroke-width="0.5" fill="none"><path d="M636.4 212.6H669.6M634.4 216H671M636.4 210.8V214.4M669.6 210.8V214.4M634.4 214.4V217.6M671 214.4V217.6"/></g>
<g font-size="4" text-anchor="middle"><text x="653" y="211.6" style="fill:#5d5456">15-50mm</text><text x="653" y="219.6" style="fill:#4a4244" font-weight="bold">26.5-51.5mm</text><text x="653" y="224.2" style="fill:#5d5456">0.01mm</text></g>
<g transform="translate(781.6,217.2) rotate(90) scale(0.903)"><path d="M-15.5 0 L-12.2 -2.6 V2.6 Z M15.5 0 L12.2 -2.6 V2.6 Z" fill="#1b1818"/><text x="0" y="2.9" text-anchor="middle" font-size="8.2" font-weight="bold" font-style="italic" textLength="23" lengthAdjust="spacingAndGlyphs" style="fill:#1b1818">INSIZE</text></g>
<g font-size="5" style="fill:#4a4446"><text x="833.2" y="227.6" font-size="6" style="fill:#4a4446">25</text><text x="838.8" y="209.4" font-size="3.6" style="fill:#4a4446">0</text></g>
<path d="M836.6 221.4V214.4M835.4 216.2L836.6 213.4L837.8 216.2M840.2 212V219M839.2 217.4L840.2 219.6L841.2 217.4" stroke="#4a4446" stroke-width="0.5" fill="none"/>
</g>
<!-- cross-section box -->
<defs><marker id="arr" viewBox="0 0 10 4" refX="10" refY="2" markerWidth="7.4" markerHeight="2.96" orient="auto-start-reverse" markerUnits="userSpaceOnUse"><path d="M0 0 L10 2 L0 4 Z" fill="#231815"/></marker></defs>
<rect x="12.3" y="274.3" width="153.5" height="242.4" rx="6.5" fill="#dcdcdc"/>
<rect x="18.4" y="280.2" width="141.2" height="230.8" rx="2.8" fill="#fff" stroke="#3a3331" stroke-width="1"/>
<line x1="18.4" y1="391.2" x2="159.6" y2="391.2" stroke="#3a3331" stroke-width="1"/>
<clipPath id="hc1"><path d="M26.6 316.8 H57.8 V337.7 H48.3 V374.6 H57.8 V391.2 H26.6 Z"/></clipPath><path d="M26.6 316.8 H57.8 V337.7 H48.3 V374.6 H57.8 V391.2 H26.6 Z" fill="#dcdcdc"/><path d="M-29.46 391.20l56.06 -74.40M-24.06 391.20l56.06 -74.40M-18.66 391.20l56.06 -74.40M-13.26 391.20l56.06 -74.40M-7.86 391.20l56.06 -74.40M-2.46 391.20l56.06 -74.40M2.94 391.20l56.06 -74.40M8.34 391.20l56.06 -74.40M13.74 391.20l56.06 -74.40M19.14 391.20l56.06 -74.40M24.54 391.20l56.06 -74.40M29.94 391.20l56.06 -74.40M35.34 391.20l56.06 -74.40M40.74 391.20l56.06 -74.40M46.14 391.20l56.06 -74.40M51.54 391.20l56.06 -74.40M56.94 391.20l56.06 -74.40M62.34 391.20l56.06 -74.40" stroke="#3a3331" stroke-width="0.9" fill="none" clip-path="url(#hc1)"/><path d="M26.6 316.8 H57.8 V337.7 H48.3 V374.6 H57.8 V391.2 H26.6 Z" fill="none" stroke="#3a3331" stroke-width="0.9"/><clipPath id="hc2"><path d="M99.6 316.8 H131.1 V391.2 H99.6 V374.6 H109.9 V337.7 H99.6 Z"/></clipPath><path d="M99.6 316.8 H131.1 V391.2 H99.6 V374.6 H109.9 V337.7 H99.6 Z" fill="#dcdcdc"/><path d="M43.54 316.80l56.06 74.40M48.94 316.80l56.06 74.40M54.34 316.80l56.06 74.40M59.74 316.80l56.06 74.40M65.14 316.80l56.06 74.40M70.54 316.80l56.06 74.40M75.94 316.80l56.06 74.40M81.34 316.80l56.06 74.40M86.74 316.80l56.06 74.40M92.14 316.80l56.06 74.40M97.54 316.80l56.06 74.40M102.94 316.80l56.06 74.40M108.34 316.80l56.06 74.40M113.74 316.80l56.06 74.40M119.14 316.80l56.06 74.40M124.54 316.80l56.06 74.40M129.94 316.80l56.06 74.40M135.34 316.80l56.06 74.40" stroke="#3a3331" stroke-width="0.9" fill="none" clip-path="url(#hc2)"/><path d="M99.6 316.8 H131.1 V391.2 H99.6 V374.6 H109.9 V337.7 H99.6 Z" fill="none" stroke="#3a3331" stroke-width="0.9"/>
<line x1="26.6" y1="316.8" x2="147.8" y2="316.8" stroke="#3a3331" stroke-width="0.8"/>
<line x1="99.6" y1="337.7" x2="147.8" y2="337.7" stroke="#3a3331" stroke-width="0.8"/>
<path d="M88.2 338 V298 Q88.2 296.4 90.2 296.4 C92.5 294.8 94.5 299.2 97 297 C99 295.2 100 296.6 100 298 V338" fill="#fff" stroke="#3a3331" stroke-width="0.9"/>
<ellipse cx="97" cy="297.6" rx="2.2" ry="1.1" fill="#fff" stroke="#3a3331" stroke-width="0.7"/>
<rect x="80.2" y="313.4" width="28.2" height="3.6" fill="#fff" stroke="#3a3331" stroke-width="0.9"/>
<rect x="80.2" y="337.7" width="28.2" height="3.6" fill="#fff" stroke="#3a3331" stroke-width="0.9"/>
<path d="M88.2 317 V337.7 M100 317 V337.7" stroke="#3a3331" stroke-width="0.9" fill="none"/>
<line x1="145.9" y1="317.4" x2="145.9" y2="337.1" stroke="#231815" stroke-width="0.7" marker-start="url(#arr)" marker-end="url(#arr)"/>
<text transform="translate(143.6,327.3) rotate(-90)" text-anchor="middle" font-size="10.5" font-weight="bold">A</text>
<clipPath id="hc3"><path d="M26.6 430.6 H57.8 V451.4 H48.3 V488.4 H57.8 V511 H26.6 Z"/></clipPath><path d="M26.6 430.6 H57.8 V451.4 H48.3 V488.4 H57.8 V511 H26.6 Z" fill="#dcdcdc"/><path d="M-33.99 511.00l60.59 -80.40M-28.59 511.00l60.59 -80.40M-23.19 511.00l60.59 -80.40M-17.79 511.00l60.59 -80.40M-12.39 511.00l60.59 -80.40M-6.99 511.00l60.59 -80.40M-1.59 511.00l60.59 -80.40M3.81 511.00l60.59 -80.40M9.21 511.00l60.59 -80.40M14.61 511.00l60.59 -80.40M20.01 511.00l60.59 -80.40M25.41 511.00l60.59 -80.40M30.81 511.00l60.59 -80.40M36.21 511.00l60.59 -80.40M41.61 511.00l60.59 -80.40M47.01 511.00l60.59 -80.40M52.41 511.00l60.59 -80.40M57.81 511.00l60.59 -80.40" stroke="#3a3331" stroke-width="0.9" fill="none" clip-path="url(#hc3)"/><path d="M26.6 430.6 H57.8 V451.4 H48.3 V488.4 H57.8 V511 H26.6 Z" fill="none" stroke="#3a3331" stroke-width="0.9"/><clipPath id="hc4"><path d="M99.6 430.6 H131.1 V511 H99.6 V488.4 H109.9 V451.4 H99.6 Z"/></clipPath><path d="M99.6 430.6 H131.1 V511 H99.6 V488.4 H109.9 V451.4 H99.6 Z" fill="#dcdcdc"/><path d="M39.01 430.60l60.59 80.40M44.41 430.60l60.59 80.40M49.81 430.60l60.59 80.40M55.21 430.60l60.59 80.40M60.61 430.60l60.59 80.40M66.01 430.60l60.59 80.40M71.41 430.60l60.59 80.40M76.81 430.60l60.59 80.40M82.21 430.60l60.59 80.40M87.61 430.60l60.59 80.40M93.01 430.60l60.59 80.40M98.41 430.60l60.59 80.40M103.81 430.60l60.59 80.40M109.21 430.60l60.59 80.40M114.61 430.60l60.59 80.40M120.01 430.60l60.59 80.40M125.41 430.60l60.59 80.40M130.81 430.60l60.59 80.40M136.21 430.60l60.59 80.40" stroke="#3a3331" stroke-width="0.9" fill="none" clip-path="url(#hc4)"/><path d="M99.6 430.6 H131.1 V511 H99.6 V488.4 H109.9 V451.4 H99.6 Z" fill="none" stroke="#3a3331" stroke-width="0.9"/>
<path d="M88.2 488.4 V419 Q88.2 417.6 90.2 417.6 C92.5 416 94.5 420.4 97 418.2 C99 416.4 100 417.8 100 419 V488.4" fill="#fff" stroke="#3a3331" stroke-width="0.9"/>
<ellipse cx="97" cy="418.8" rx="2.2" ry="1.1" fill="#fff" stroke="#3a3331" stroke-width="0.7"/>
<rect x="80.2" y="451.4" width="28.2" height="3.6" fill="#fff" stroke="#3a3331" stroke-width="0.9"/>
<rect x="80.2" y="484.9" width="28.2" height="3.6" fill="#fff" stroke="#3a3331" stroke-width="0.9"/>
<line x1="108.4" y1="451.4" x2="151.6" y2="451.4" stroke="#3a3331" stroke-width="0.8"/>
<line x1="108.4" y1="488.5" x2="151.6" y2="488.5" stroke="#3a3331" stroke-width="0.8"/>
<line x1="147.8" y1="452" x2="147.8" y2="487.9" stroke="#231815" stroke-width="0.7" marker-start="url(#arr)" marker-end="url(#arr)"/>
<text transform="translate(145.8,470) rotate(-90)" text-anchor="middle" font-size="10.5" font-weight="bold">B</text>
<!-- technical drawing -->
<g class="dw">
<defs><marker id="ar2" viewBox="0 0 10 4" refX="10" refY="2" markerWidth="5.8" markerHeight="2.32" orient="auto-start-reverse" markerUnits="userSpaceOnUse"><path d="M0 0 L10 2 L0 4 Z" fill="#231815"/></marker><pattern id="xh" width="2.15" height="2.15" patternUnits="userSpaceOnUse" patternTransform="rotate(45)"><rect width="2.15" height="2.15" fill="#f2f2f2"/><path d="M0 0H2.15M0 0V2.15" stroke="#231815" stroke-width="0.82"/></pattern><pattern id="vrib" width="1.9" height="4" patternUnits="userSpaceOnUse"><rect width="1.9" height="4" fill="#e3e3e3"/><path d="M0.5 0V4" stroke="#231815" stroke-width="0.75"/></pattern></defs>
<circle cx="321.1" cy="372" r="61.8" fill="#fff" stroke="#231815" stroke-width="0.8"/>
<clipPath id="cpBig"><circle cx="321.1" cy="372" r="61.4"/></clipPath>
<rect x="346" y="348.5" width="40" height="22.7" fill="#dcdcdc" clip-path="url(#cpBig)"/>
<rect x="299.8" y="352.4" width="44.7" height="14.9" fill="#dcdcdc"/>
<g clip-path="url(#cpBig)"><path d="M299.8 352.4H344.5M299.8 367.3H344.5M346.4 348.5H390M346.4 371.2H390" stroke="#231815" stroke-width="0.8" fill="none"/></g>
<path d="M297.7 344.2V374.3M299.7 344.2V374.3M344.6 344.2V374.3M346.4 344.2V374.3" stroke="#231815" stroke-width="1.0" fill="none"/>
<path d="M297.7 344.2H299.7M297.7 374.3H299.7M344.6 344.2H346.4M344.6 374.3H346.4" stroke="#231815" stroke-width="0.8" fill="none"/>
<path d="M297.6 327.6V344M346.4 327.6V344M299.8 338.8V344M344.5 338.8V344" stroke="#231815" stroke-width="0.7" fill="none"/>
<line x1="297.6" y1="329.1" x2="346.4" y2="329.1" stroke="#231815" stroke-width="0.7" marker-start="url(#ar2)" marker-end="url(#ar2)"/>
<line x1="299.8" y1="340.7" x2="344.5" y2="340.7" stroke="#231815" stroke-width="0.7" marker-start="url(#ar2)" marker-end="url(#ar2)"/>
<text x="321.4" y="327.6" font-size="10.6" text-anchor="middle">B</text>
<text x="321.4" y="339.3" font-size="10.6" text-anchor="middle">A</text>
<path d="M286.8 344.2H297.6M286.8 374.3H297.6" stroke="#231815" stroke-width="0.7" fill="none"/>
<line x1="289.8" y1="344.2" x2="289.8" y2="374.3" stroke="#231815" stroke-width="0.7" marker-start="url(#ar2)" marker-end="url(#ar2)"/>
<text transform="translate(287.0,359.2) rotate(-90)" text-anchor="middle" font-size="10.6">Ø13</text>
<path d="M325.3 367.3V396" stroke="#231815" stroke-width="0.7" fill="none"/>
<line x1="325.3" y1="352.4" x2="325.3" y2="367.3" stroke="#231815" stroke-width="0.7" marker-start="url(#ar2)" marker-end="url(#ar2)"/>
<text transform="translate(324.0,383) rotate(-90)" text-anchor="middle" font-size="10.6">Ø6.5</text>
<path d="M366.8 371.2V396" stroke="#231815" stroke-width="0.7" fill="none"/>
<line x1="366.8" y1="348.5" x2="366.8" y2="371.2" stroke="#231815" stroke-width="0.7" marker-start="url(#ar2)" marker-end="url(#ar2)"/>
<text transform="translate(365.2,385) rotate(-90)" text-anchor="middle" font-size="10.6">Ø10</text>
<path d="M297.6 375.8V404M299.9 375.8V404M344.5 375.8V404M346.5 375.8V404" stroke="#231815" stroke-width="0.7" fill="none"/>
<path d="M282 402.2H297.6M299.9 402.2H311" stroke="#231815" stroke-width="0.7" fill="none"/>
<path d="M297.6 402.2l-5-1.4v2.8zM299.9 402.2l5-1.4v2.8zM344.5 402.2l-5-1.4v2.8zM346.5 402.2l5-1.4v2.8z" fill="#231815"/>
<path d="M332.4 402.2H344.5M346.5 402.2H357" stroke="#231815" stroke-width="0.7" fill="none"/>
<text x="286.3" y="414.9" font-size="10.9" text-anchor="start">0.75</text>
<text x="333.2" y="414.9" font-size="10.9" text-anchor="start">0.75</text>
<path d="M382 373.2L401.8 377.2M349.8 427L372 450.4" stroke="#231815" stroke-width="0.7" fill="none"/>
<circle cx="430.8" cy="376.1" r="29" fill="#fff" stroke="#231815" stroke-width="0.8"/>
<rect x="416.4" y="369.4" width="35.4" height="12.6" fill="#dcdcdc"/>
<path d="M416.4 369.4H451.8M416.4 382H451.8" stroke="#231815" stroke-width="0.7" fill="none"/>
<path d="M414.9 363.4V387.6M416.5 363.4V387.6M451.6 363.2V387.6M453.1 363.2V387.6" stroke="#231815" stroke-width="0.9" fill="none"/>
<rect x="453" y="366.2" width="175" height="18.8" fill="#dcdcdc"/>
<path d="M453 366.2H628M453 385H628" stroke="#231815" stroke-width="0.7" fill="none"/>
<circle cx="430.8" cy="376.1" r="29" fill="none" stroke="#231815" stroke-width="0.8"/>
<clipPath id="kc1"><rect x="539.6" y="360.6" width="8.4" height="29.4" rx="1.6"/></clipPath><rect x="539.6" y="360.6" width="8.4" height="29.4" rx="1.6" fill="#ececec"/><path d="M511.60 360.60l26.55 29.40M538.15 360.60l-26.55 29.40M514.40 360.60l26.55 29.40M540.95 360.60l-26.55 29.40M517.20 360.60l26.55 29.40M543.75 360.60l-26.55 29.40M520.00 360.60l26.55 29.40M546.55 360.60l-26.55 29.40M522.80 360.60l26.55 29.40M549.35 360.60l-26.55 29.40M525.60 360.60l26.55 29.40M552.15 360.60l-26.55 29.40M528.40 360.60l26.55 29.40M554.95 360.60l-26.55 29.40M531.20 360.60l26.55 29.40M557.75 360.60l-26.55 29.40M534.00 360.60l26.55 29.40M560.55 360.60l-26.55 29.40M536.80 360.60l26.55 29.40M563.35 360.60l-26.55 29.40M539.60 360.60l26.55 29.40M566.15 360.60l-26.55 29.40M542.40 360.60l26.55 29.40M568.95 360.60l-26.55 29.40M545.20 360.60l26.55 29.40M571.75 360.60l-26.55 29.40" stroke="#231815" stroke-width="0.62" fill="none" clip-path="url(#kc1)"/><rect x="539.6" y="360.6" width="8.4" height="29.4" rx="1.6" fill="none" stroke="#231815" stroke-width="0.7"/>
<clipPath id="kc2"><rect x="561.6" y="360.2" width="21.2" height="30.4" rx="1.6"/></clipPath><rect x="561.6" y="360.2" width="21.2" height="30.4" rx="1.6" fill="#ececec"/><path d="M531.60 360.20l27.64 30.40M559.24 360.20l-27.64 30.40M534.60 360.20l27.64 30.40M562.24 360.20l-27.64 30.40M537.60 360.20l27.64 30.40M565.24 360.20l-27.64 30.40M540.60 360.20l27.64 30.40M568.24 360.20l-27.64 30.40M543.60 360.20l27.64 30.40M571.24 360.20l-27.64 30.40M546.60 360.20l27.64 30.40M574.24 360.20l-27.64 30.40M549.60 360.20l27.64 30.40M577.24 360.20l-27.64 30.40M552.60 360.20l27.64 30.40M580.24 360.20l-27.64 30.40M555.60 360.20l27.64 30.40M583.24 360.20l-27.64 30.40M558.60 360.20l27.64 30.40M586.24 360.20l-27.64 30.40M561.60 360.20l27.64 30.40M589.24 360.20l-27.64 30.40M564.60 360.20l27.64 30.40M592.24 360.20l-27.64 30.40M567.60 360.20l27.64 30.40M595.24 360.20l-27.64 30.40M570.60 360.20l27.64 30.40M598.24 360.20l-27.64 30.40M573.60 360.20l27.64 30.40M601.24 360.20l-27.64 30.40M576.60 360.20l27.64 30.40M604.24 360.20l-27.64 30.40M579.60 360.20l27.64 30.40M607.24 360.20l-27.64 30.40M582.60 360.20l27.64 30.40M610.24 360.20l-27.64 30.40" stroke="#231815" stroke-width="0.62" fill="none" clip-path="url(#kc2)"/><rect x="561.6" y="360.2" width="1.4" height="30.4" fill="#231815" opacity="0.75" clip-path="url(#kc2)"/><rect x="561.6" y="360.2" width="21.2" height="30.4" rx="1.6" fill="none" stroke="#231815" stroke-width="0.7"/>
<rect x="551.2" y="374.3" width="10.6" height="2.3" fill="#f4f4f4" stroke="#231815" stroke-width="0.6"/>
<path d="M555.8 360.4H561.6M555.8 390.4H561.6M558.5 390.4V413.2" stroke="#231815" stroke-width="0.7" fill="none"/>
<line x1="558.5" y1="360.4" x2="558.5" y2="390.4" stroke="#231815" stroke-width="0.6" marker-start="url(#ar2)" marker-end="url(#ar2)"/>
<text transform="translate(556.6,402.4) rotate(-90)" text-anchor="middle" font-size="10.6">Ø16</text>
<path d="M628 363 L630.4 360.6 H687 V390 H630.4 L628 387.6 Z" fill="#dcdcdc" stroke="#231815" stroke-width="0.7"/>
<rect x="686.8" y="362.1" width="24" height="26.5" fill="#dcdcdc"/>
<path d="M686.8 362.1H710.6M686.8 388.6H710.6" stroke="#231815" stroke-width="0.7" fill="none"/>
<path d="M710.4 361.4 L721 359.7 H768.8 V391.5 H721 L710.4 389.2 Z" fill="#dcdcdc" stroke="#231815" stroke-width="0.7"/>
<path d="M710.8 362.10H720.4M710.8 365.40H716.6M710.8 368.70H716.6M710.8 372.00H716.6M710.8 375.30H720.4M710.8 378.60H716.6M710.8 381.90H716.6M710.8 385.20H716.6M710.8 388.50H720.4" stroke="#231815" stroke-width="0.8" fill="none"/>
<path d="M721 359.7V391.5" stroke="#231815" stroke-width="0.6" fill="none"/>
<rect x="813" y="367" width="6.8" height="17.8" fill="#dcdcdc" stroke="#231815" stroke-width="0.6"/>
<clipPath id="kc3"><rect x="768.6" y="358.3" width="44.4" height="34.4" rx="1.8"/></clipPath><rect x="768.6" y="358.3" width="44.4" height="34.4" rx="1.8" fill="#ececec"/><path d="M734.50 358.30l32.32 34.40M766.82 358.30l-32.32 34.40M737.60 358.30l32.32 34.40M769.92 358.30l-32.32 34.40M740.70 358.30l32.32 34.40M773.02 358.30l-32.32 34.40M743.80 358.30l32.32 34.40M776.12 358.30l-32.32 34.40M746.90 358.30l32.32 34.40M779.22 358.30l-32.32 34.40M750.00 358.30l32.32 34.40M782.32 358.30l-32.32 34.40M753.10 358.30l32.32 34.40M785.42 358.30l-32.32 34.40M756.20 358.30l32.32 34.40M788.52 358.30l-32.32 34.40M759.30 358.30l32.32 34.40M791.62 358.30l-32.32 34.40M762.40 358.30l32.32 34.40M794.72 358.30l-32.32 34.40M765.50 358.30l32.32 34.40M797.82 358.30l-32.32 34.40M768.60 358.30l32.32 34.40M800.92 358.30l-32.32 34.40M771.70 358.30l32.32 34.40M804.02 358.30l-32.32 34.40M774.80 358.30l32.32 34.40M807.12 358.30l-32.32 34.40M777.90 358.30l32.32 34.40M810.22 358.30l-32.32 34.40M781.00 358.30l32.32 34.40M813.32 358.30l-32.32 34.40M784.10 358.30l32.32 34.40M816.42 358.30l-32.32 34.40M787.20 358.30l32.32 34.40M819.52 358.30l-32.32 34.40M790.30 358.30l32.32 34.40M822.62 358.30l-32.32 34.40M793.40 358.30l32.32 34.40M825.72 358.30l-32.32 34.40M796.50 358.30l32.32 34.40M828.82 358.30l-32.32 34.40M799.60 358.30l32.32 34.40M831.92 358.30l-32.32 34.40M802.70 358.30l32.32 34.40M835.02 358.30l-32.32 34.40M805.80 358.30l32.32 34.40M838.12 358.30l-32.32 34.40M808.90 358.30l32.32 34.40M841.22 358.30l-32.32 34.40M812.00 358.30l32.32 34.40M844.32 358.30l-32.32 34.40" stroke="#231815" stroke-width="0.62" fill="none" clip-path="url(#kc3)"/><rect x="768.6" y="358.3" width="44.4" height="34.4" rx="1.8" fill="none" stroke="#231815" stroke-width="0.7"/>
<path d="M452.3 388V417.4M627.9 390.4V417.4M687.9 391V417.4M710.4 388.6V417.4M813 392.6V417.4M819.8 385.2V417.4" stroke="#231815" stroke-width="0.7" fill="none"/>
<line x1="452.3" y1="415.3" x2="627.9" y2="415.3" stroke="#231815" stroke-width="0.7" marker-start="url(#ar2)" marker-end="url(#ar2)"/>
<line x1="627.9" y1="415.3" x2="687.9" y2="415.3" stroke="#231815" stroke-width="0.7" marker-start="url(#ar2)" marker-end="url(#ar2)"/>
<line x1="710.4" y1="415.3" x2="813" y2="415.3" stroke="#231815" stroke-width="0.7" marker-start="url(#ar2)" marker-end="url(#ar2)"/>
<path d="M819.8 415.3H845" stroke="#231815" stroke-width="0.7" fill="none"/>
<path d="M819.8 415.3l5-1.4v2.8z" fill="#231815"/>
<text x="521.2" y="413.8" font-size="10.8" text-anchor="start">102</text>
<text x="653.2" y="413.8" font-size="10.8" text-anchor="start">32</text>
<text x="757.3" y="413.8" font-size="10.8" text-anchor="start">57</text>
<text x="830" y="413.8" font-size="10.8" text-anchor="start">3.5</text>
<path d="M813 358.4H838M813 392.5H838" stroke="#231815" stroke-width="0.7" fill="none"/>
<line x1="835.7" y1="358.4" x2="835.7" y2="392.5" stroke="#231815" stroke-width="0.6" marker-start="url(#ar2)" marker-end="url(#ar2)"/>
<text transform="translate(833.8,375.2) rotate(-90)" text-anchor="middle" font-size="10.6">Ø19</text>
<circle cx="396.3" cy="466.3" r="29" fill="#fff" stroke="#231815" stroke-width="0.8"/>
<rect x="380.6" y="459.5" width="35.6" height="12.3" fill="#dcdcdc"/>
<path d="M380.6 459.5H416.2M380.6 471.8H416.2" stroke="#231815" stroke-width="0.7" fill="none"/>
<path d="M379.6 453.3V477.6M380.9 453.3V477.6M416.2 453.3V477.6M417.8 453.3V477.6" stroke="#231815" stroke-width="0.9" fill="none"/>
<rect x="418" y="456.6" width="177" height="18.4" fill="#dcdcdc"/>
<path d="M418 456.6H594.4M418 475H594.4" stroke="#231815" stroke-width="0.7" fill="none"/>
<circle cx="396.3" cy="466.3" r="29" fill="none" stroke="#231815" stroke-width="0.8"/>
<clipPath id="kc4"><rect x="504.8" y="450.6" width="8" height="29.4" rx="1.6"/></clipPath><rect x="504.8" y="450.6" width="8" height="29.4" rx="1.6" fill="#ececec"/><path d="M476.80 450.60l26.55 29.40M503.35 450.60l-26.55 29.40M479.60 450.60l26.55 29.40M506.15 450.60l-26.55 29.40M482.40 450.60l26.55 29.40M508.95 450.60l-26.55 29.40M485.20 450.60l26.55 29.40M511.75 450.60l-26.55 29.40M488.00 450.60l26.55 29.40M514.55 450.60l-26.55 29.40M490.80 450.60l26.55 29.40M517.35 450.60l-26.55 29.40M493.60 450.60l26.55 29.40M520.15 450.60l-26.55 29.40M496.40 450.60l26.55 29.40M522.95 450.60l-26.55 29.40M499.20 450.60l26.55 29.40M525.75 450.60l-26.55 29.40M502.00 450.60l26.55 29.40M528.55 450.60l-26.55 29.40M504.80 450.60l26.55 29.40M531.35 450.60l-26.55 29.40M507.60 450.60l26.55 29.40M534.15 450.60l-26.55 29.40M510.40 450.60l26.55 29.40M536.95 450.60l-26.55 29.40" stroke="#231815" stroke-width="0.62" fill="none" clip-path="url(#kc4)"/><rect x="504.8" y="450.6" width="8" height="29.4" rx="1.6" fill="none" stroke="#231815" stroke-width="0.7"/>
<clipPath id="kc5"><rect x="527.6" y="450.2" width="21.4" height="30.4" rx="1.6"/></clipPath><rect x="527.6" y="450.2" width="21.4" height="30.4" rx="1.6" fill="#ececec"/><path d="M497.60 450.20l27.64 30.40M525.24 450.20l-27.64 30.40M500.60 450.20l27.64 30.40M528.24 450.20l-27.64 30.40M503.60 450.20l27.64 30.40M531.24 450.20l-27.64 30.40M506.60 450.20l27.64 30.40M534.24 450.20l-27.64 30.40M509.60 450.20l27.64 30.40M537.24 450.20l-27.64 30.40M512.60 450.20l27.64 30.40M540.24 450.20l-27.64 30.40M515.60 450.20l27.64 30.40M543.24 450.20l-27.64 30.40M518.60 450.20l27.64 30.40M546.24 450.20l-27.64 30.40M521.60 450.20l27.64 30.40M549.24 450.20l-27.64 30.40M524.60 450.20l27.64 30.40M552.24 450.20l-27.64 30.40M527.60 450.20l27.64 30.40M555.24 450.20l-27.64 30.40M530.60 450.20l27.64 30.40M558.24 450.20l-27.64 30.40M533.60 450.20l27.64 30.40M561.24 450.20l-27.64 30.40M536.60 450.20l27.64 30.40M564.24 450.20l-27.64 30.40M539.60 450.20l27.64 30.40M567.24 450.20l-27.64 30.40M542.60 450.20l27.64 30.40M570.24 450.20l-27.64 30.40M545.60 450.20l27.64 30.40M573.24 450.20l-27.64 30.40M548.60 450.20l27.64 30.40M576.24 450.20l-27.64 30.40" stroke="#231815" stroke-width="0.62" fill="none" clip-path="url(#kc5)"/><rect x="527.6" y="450.2" width="1.4" height="30.4" fill="#231815" opacity="0.75" clip-path="url(#kc5)"/><rect x="527.6" y="450.2" width="21.4" height="30.4" rx="1.6" fill="none" stroke="#231815" stroke-width="0.7"/>
<rect x="516.6" y="463.8" width="11.2" height="2.3" fill="#f4f4f4" stroke="#231815" stroke-width="0.6"/>
<path d="M521.2 450.4H527.6M521.2 480.4H527.6M523.8 480.4V503" stroke="#231815" stroke-width="0.7" fill="none"/>
<line x1="523.8" y1="450.4" x2="523.8" y2="480.4" stroke="#231815" stroke-width="0.6" marker-start="url(#ar2)" marker-end="url(#ar2)"/>
<text transform="translate(522.2,492.2) rotate(-90)" text-anchor="middle" font-size="10.6">Ø16</text>
<path d="M594.2 453 L596.6 450.6 H653.6 V480.6 H596.6 L594.2 478.2 Z" fill="#dcdcdc" stroke="#231815" stroke-width="0.7"/>
<rect x="653.6" y="452" width="24" height="26.6" fill="#dcdcdc"/>
<path d="M653.6 452H677.3M653.6 478.6H677.3" stroke="#231815" stroke-width="0.7" fill="none"/>
<path d="M677.2 451.4 L688.4 449.8 H737 V481.5 H688.4 L677.2 479.8 Z" fill="#dcdcdc" stroke="#231815" stroke-width="0.7"/>
<path d="M677.6 452.10H687.8M677.6 455.40H683.6M677.6 458.70H683.6M677.6 462.00H683.6M677.6 465.30H687.8M677.6 468.60H683.6M677.6 471.90H683.6M677.6 475.20H683.6M677.6 478.50H687.8" stroke="#231815" stroke-width="0.8" fill="none"/>
<path d="M688.4 449.8V481.5" stroke="#231815" stroke-width="0.6" fill="none"/>
<rect x="759" y="450" width="16.6" height="30.6" fill="#dcdcdc"/>
<path d="M759 450H775.6M759 480.6H775.6" stroke="#231815" stroke-width="0.7" fill="none"/>
<rect x="736.8" y="447.7" width="22.6" height="35.9" rx="1.8" fill="#e2e2e2"/><path d="M736.80 447.79h22.60M736.80 448.47h22.60M736.80 449.82h22.60M736.80 451.77h22.60M736.80 454.26h22.60M736.80 457.19h22.60M736.80 460.44h22.60M736.80 463.89h22.60M736.80 467.41h22.60M736.80 470.86h22.60M736.80 474.11h22.60M736.80 477.04h22.60M736.80 479.53h22.60M736.80 481.48h22.60M736.80 482.83h22.60M736.80 483.51h22.60" stroke="#4a4442" stroke-width="0.85" fill="none"/><rect x="736.8" y="447.7" width="22.6" height="35.9" rx="1.8" fill="none" stroke="#231815" stroke-width="0.7"/>
<rect x="775.5" y="447.7" width="23.8" height="35.9" rx="1.8" fill="#e2e2e2"/><path d="M775.50 447.79h23.80M775.50 448.47h23.80M775.50 449.82h23.80M775.50 451.77h23.80M775.50 454.26h23.80M775.50 457.19h23.80M775.50 460.44h23.80M775.50 463.89h23.80M775.50 467.41h23.80M775.50 470.86h23.80M775.50 474.11h23.80M775.50 477.04h23.80M775.50 479.53h23.80M775.50 481.48h23.80M775.50 482.83h23.80M775.50 483.51h23.80" stroke="#4a4442" stroke-width="0.85" fill="none"/><rect x="775.5" y="447.7" width="23.8" height="35.9" rx="1.8" fill="none" stroke="#231815" stroke-width="0.7"/>
<path d="M799 449.4 L812 456.5 V473.8 L799 481.4 Z" fill="#dcdcdc" stroke="#231815" stroke-width="0.7"/>
<rect x="812.2" y="456.5" width="14.6" height="17.6" rx="0.8" fill="#e2e2e2"/><path d="M812.20 456.72h14.60M812.20 458.42h14.60M812.20 461.48h14.60M812.20 465.30h14.60M812.20 469.12h14.60M812.20 472.18h14.60M812.20 473.88h14.60" stroke="#4a4442" stroke-width="0.9" fill="none"/><rect x="812.2" y="456.5" width="14.6" height="17.6" rx="0.8" fill="none" stroke="#231815" stroke-width="0.7"/>
<path d="M417.6 478V507.8M594.2 481V507.8M653.6 481V507.8M677.2 479.8V507.8M828 458.4V507.8" stroke="#231815" stroke-width="0.7" fill="none"/>
<line x1="417.6" y1="506" x2="594.2" y2="506" stroke="#231815" stroke-width="0.7" marker-start="url(#ar2)" marker-end="url(#ar2)"/>
<line x1="594.2" y1="506" x2="653.6" y2="506" stroke="#231815" stroke-width="0.7" marker-start="url(#ar2)" marker-end="url(#ar2)"/>
<line x1="677.2" y1="506" x2="828" y2="506" stroke="#231815" stroke-width="0.7" marker-start="url(#ar2)" marker-end="url(#ar2)"/>
<text x="480.1" y="503.8" font-size="10.8" text-anchor="start">102</text>
<text x="618.4" y="503.8" font-size="10.8" text-anchor="start">32</text>
<text x="747" y="503.8" font-size="10.8" text-anchor="start">72</text>
<path d="M799 448H845M799 482.4H845" stroke="#231815" stroke-width="0.7" fill="none"/>
<line x1="841.6" y1="448" x2="841.6" y2="482.4" stroke="#231815" stroke-width="0.6" marker-start="url(#ar2)" marker-end="url(#ar2)"/>
<text transform="translate(839.9,465.2) rotate(-90)" text-anchor="middle" font-size="10.6">Ø19</text>
</g>
<text x="796" y="345.3" font-size="10.8" style="font-family:'Liberation Serif','Noto Serif CJK SC',serif;fill:#231815">单位</text>
<text x="819.6" y="345.2" font-size="10.8" text-anchor="start">: mm</text>
<text x="853.2" y="385.2" font-size="12.2" style="font-family:'Liberation Sans','Noto Sans CJK SC',sans-serif;fill:#231815">无棘轮测力</text>
<text x="857.3" y="473.6" font-size="12.3" style="font-family:'Liberation Sans','Noto Sans CJK SC',sans-serif;fill:#231815">双向测力</text>
<!-- table captions -->
<text x="11.4" y="574.5" font-size="13.8" style="font-family:'Liberation Sans','Noto Sans CJK SC',sans-serif;fill:#231815">无棘轮测力</text>
<text x="485.7" y="574.5" font-size="13.8" style="font-family:'Liberation Sans','Noto Sans CJK SC',sans-serif;fill:#231815">双向测力</text>
</svg>
<div class="t" style="left:68.3px;top:164.4px;font-size:14.2px;-webkit-text-stroke:0.3px #231815;">: 0.01mm</div>
<div class="t" style="left:68.3px;top:201.3px;font-size:14.2px;-webkit-text-stroke:0.3px #231815;">,</div>
<div class="t b" style="left:538.6px;top:135.9px;font-size:14.1px;letter-spacing:0.2px;">3287<span style="margin-left:1.6px;margin-right:-1.0px">-</span>25AC</div>
<div class="t b" style="left:531.8px;top:255.4px;font-size:14.1px;letter-spacing:0.15px;"><span style="letter-spacing:0.8px">3287</span>-50BC</div>
<table class="spec" style="left:12.1px;top:578.8px;width:409.7px;">
<colgroup><col style="width:108.4px"><col style="width:109.2px"><col style="width:124.9px"><col style="width:67.2px"></colgroup>
<tr><th><span class="c1">型号</span></th><th class="v"><span class="c2">外测范围(A)</span></th><th class="v"><span class="c3">内测范围(B)</span></th><th class="v"><span class="c4">精度</span></th></tr>
<tr class="g"><td class="m"><span class="c1">3287-25AC</span></td><td class="v"><span class="c2">0-25mm</span></td><td class="v"><span class="c3">1.6-26.5mm</span></td><td class="v"><span class="c4 up">10μm</span></td></tr>
<tr class="w"><td class="m"><span class="c1">3287-50AC</span></td><td class="v"><span class="c2">25-50mm</span></td><td class="v"><span class="c3">26.5-51.5mm</span></td><td class="v"><span class="c4 up">10μm</span></td></tr>
<tr class="g"><td class="m"><span class="c1">3287-75AC</span></td><td class="v"><span class="c2">50-75mm</span></td><td class="v"><span class="c3">51.5-76.5mm</span></td><td class="v"><span class="c4 up">10μm</span></td></tr>
<tr class="w"><td class="m"><span class="c1">3287-100AC</span></td><td class="v"><span class="c2">75-100mm</span></td><td class="v"><span class="c3">76.5-101.5mm</span></td><td class="v"><span class="c4 up">10μm</span></td></tr>
</table>
<table class="spec" style="left:486.5px;top:578.8px;width:409.7px;">
<colgroup><col style="width:108.4px"><col style="width:109.2px"><col style="width:124.9px"><col style="width:67.2px"></colgroup>
<tr><th><span class="c1">型号</span></th><th class="v"><span class="c2">外测范围(A)</span></th><th class="v"><span class="c3">内测范围(B)</span></th><th class="v"><span class="c4">精度</span></th></tr>
<tr class="g"><td class="m"><span class="c1">3287-25BC</span></td><td class="v"><span class="c2">0-25mm</span></td><td class="v"><span class="c3">1.6-26.5mm</span></td><td class="v"><span class="c4 up">10μm</span></td></tr>
<tr class="w"><td class="m"><span class="c1">3287-50BC</span></td><td class="v"><span class="c2">25-50mm</span></td><td class="v"><span class="c3">26.5-51.5mm</span></td><td class="v"><span class="c4 up">10μm</span></td></tr>
<tr class="g"><td class="m"><span class="c1">3287-75BC</span></td><td class="v"><span class="c2">50-75mm</span></td><td class="v"><span class="c3">51.5-76.5mm</span></td><td class="v"><span class="c4 up">10μm</span></td></tr>
<tr class="w"><td class="m"><span class="c1">3287-100BC</span></td><td class="v"><span class="c2">75-100mm</span></td><td class="v"><span class="c3">76.5-101.5mm</span></td><td class="v"><span class="c4 up">10μm</span></td></tr>
</table>
</body></html>
